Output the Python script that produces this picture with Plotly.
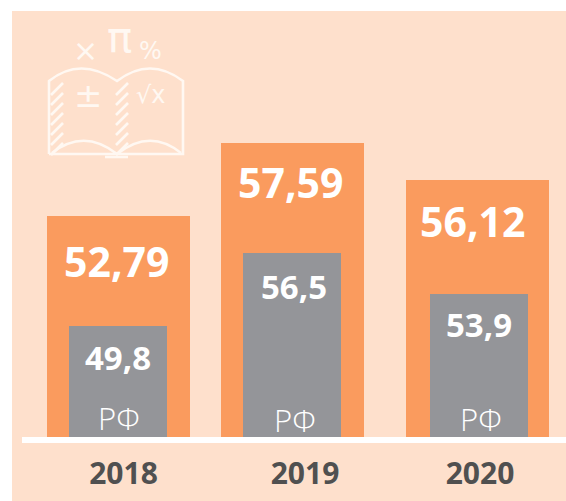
import plotly.graph_objects as go

years = [2018, 2019, 2020]
total_labels = ["52,79", "57,59", "56,12"]
rf_labels = ["49,8", "56,5", "53,9"]
rf_name = "РФ"
# bar heights as drawn in the picture (the drawing does not follow one linear scale)
total_heights = [221, 294, 257]
rf_heights = [111, 184, 143]

W, H = 566, 501
PL, PT, PB = 22, 11, 64            # plot-area margins
UNIT = 179.5                       # px per year on the x axis
CENTER_PX = 295                    # px of 2019

PANEL = "#FEE0CC"; ORANGE = "#FA9B5E"; GRAY = "#949599"; DARK = "#505050"; ICON = "#FFF8F2"

def xu(px):
    return 2019 + (px - CENTER_PX) / UNIT
def yu(py):
    return (H - PB) - py
def pts(*p):
    return " ".join(f"{c} {xu(a):.4f},{yu(b):.2f}" for c, a, b in p)

x_range = [xu(PL), xu(W)]
y_range = [0, H - PB - PT]
plot_h = H - PB - PT
plot_w = W - PL

total_w, rf_w = 143 / UNIT, 98 / UNIT
total_off = [(118.5 - 115.5) / UNIT - total_w / 2, (292.5 - 295) / UNIT - total_w / 2, (477.5 - 474.5) / UNIT - total_w / 2]
rf_off = [(118 - 115.5) / UNIT - rf_w / 2, (292 - 295) / UNIT - rf_w / 2, (479 - 474.5) / UNIT - rf_w / 2]

fig = go.Figure()
fig.add_bar(x=years, y=total_heights, width=total_w, offset=total_off, marker_color=ORANGE, marker_line_width=0,
            showlegend=False, hoverinfo="skip")
fig.add_bar(x=years, y=rf_heights, width=rf_w, offset=rf_off, marker_color=GRAY, marker_line_width=0,
            showlegend=False, hoverinfo="skip")

FONT = "Open Sans"
ann = []
for i, yr in enumerate(years):
    ann.append(dict(x=yr, y=total_heights[i], xref="x", yref="y", text=f"<b>{total_labels[i]}</b>", showarrow=False,
                    xshift=[0.5, -4.5, -2][i], yshift=[-45, -39, -41][i], yanchor="middle",
                    font=dict(family=FONT, size=41, color="white")))
    ann.append(dict(x=yr, y=rf_heights[i], xref="x", yref="y", text=f"<b>{rf_labels[i]}</b>", showarrow=False,
                    xshift=[2, -1, 4][i], yshift=[-31, -33, -30][i], yanchor="middle",
                    font=dict(family=FONT, size=33, color="white")))
    ann.append(dict(x=yr, y=0, xref="x", yref="y", text=rf_name, showarrow=False,
                    xshift=[3.5, 0, 6.5][i], yshift=[19, 17, 18][i], yanchor="middle",
                    font=dict(family="Open Sans Light, Open Sans", size=31, color="white")))

# icon symbols
for txt, px, py, sz in [("×", 85, 50, 30), ("π", 119, 37, 42), ("%", 150, 51, 24), ("±", 88, 95, 34), ("√x", 151, 95, 24)]:
    ann.append(dict(x=xu(px), y=yu(py), xref="x", yref="y", text=txt, showarrow=False, yanchor="middle",
                    font=dict(family="DejaVu Sans", size=sz, color=ICON)))

LINE = dict(color=ICON, width=2.6)
shapes = [
    # panel
    dict(type="rect", xref="paper", yref="paper", x0=(12 - PL) / plot_w, x1=1,
         y0=-PB / plot_h, y1=1, fillcolor=PANEL, line_width=0, layer="below"),
    # book outline
    dict(type="path", xref="x", yref="y", line=LINE, layer="above",
         path=pts(("M", 49, 154), ("L", 49, 81), ("Q", 80, 56), ("", 117, 81), ("Q", 150, 56), ("", 183, 81),
                  ("L", 183, 154), ("L", 49, 154))),
    dict(type="path", xref="x", yref="y", line=LINE, layer="above",
         path=pts(("M", 52, 153), ("Q", 84, 128), ("", 117, 154), ("Q", 150, 128), ("", 181, 153))),
    dict(type="line", xref="x", yref="y", x0=xu(105), x1=xu(128), y0=yu(157), y1=yu(157), line=LINE, layer="above"),
]
# hatching
for x0, n in [(51, 7), (116, 7)]:
    for k in range(n):
        top = 83 + k * 10
        shapes.append(dict(type="line", xref="x", yref="y", x0=xu(x0), x1=xu(x0 + 12), y0=yu(top + 12), y1=yu(top),
                           line=dict(color=ICON, width=2.6), layer="above"))

fig.update_layout(
    width=W, height=H, autosize=False, barmode="overlay", paper_bgcolor="white", plot_bgcolor="rgba(0,0,0,0)",
    margin=dict(l=PL, r=0, t=PT, b=PB, pad=0), shapes=shapes, annotations=ann,
    xaxis=dict(range=x_range, tickvals=[y + n for y, n in zip(years, [8 / UNIT, 10 / UNIT, 5.5 / UNIT])], ticktext=[str(y) for y in years],
               showgrid=False, zeroline=False, showline=True, linecolor="white", linewidth=6, ticks="outside",
               ticklen=5, tickcolor="rgba(0,0,0,0)", tickwidth=0,
               tickfont=dict(family=FONT, size=30, color=DARK, weight="bold")),
    yaxis=dict(range=y_range, visible=False),
)
fig.write_html("out.html", config=dict(displayModeBar=False),
               post_script="document.body.style.margin='0';document.body.style.overflow='hidden';")
